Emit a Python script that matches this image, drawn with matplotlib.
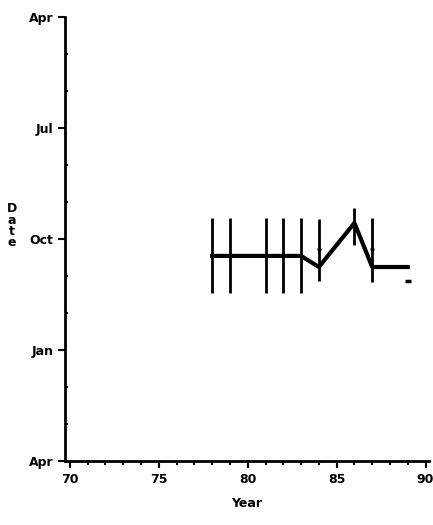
import numpy as np
import matplotlib.pyplot as plt

# Data (months after 1 April; axis runs Apr -> Apr downward)
years = [78, 79, 81, 82, 83, 84, 86, 87, 89]
date_mean = [6.46, 6.46, 6.46, 6.46, 6.46, 6.76, 5.57, 6.76, 6.76]
bar_years = [78, 79, 81, 82, 83, 84, 86, 87]
bar_low = [5.43, 5.43, 5.43, 5.43, 5.43, 5.46, 5.16, 5.43]
bar_high = [7.46, 7.46, 7.46, 7.46, 7.46, 7.14, 6.16, 7.16]
mid_years = [84, 87]
mid_vals = [6.27, 6.27]
extra_year = [89]
extra_val = [7.14]

month_ticks = [0, 3, 6, 9, 12]
month_labels = ['Apr', 'Jul', 'Oct', 'Jan', 'Apr']
year_ticks = [70, 75, 80, 85, 90]

fig = plt.figure(figsize=(4.33, 5.25), dpi=100)
ax = fig.add_axes([0.150, 0.122, 0.841, 0.846])

ax.vlines(bar_years, bar_low, bar_high, color='black', lw=2)
ax.plot(years, date_mean, color='black', lw=3)
ax.plot(mid_years, mid_vals, 'k.', ms=4)
ax.plot(extra_year, extra_val, 'k_', ms=5, mew=2.5)

ax.set_xlim(69.72, 90.2)
ax.set_ylim(12, 0)
ax.set_xticks(year_ticks)
ax.set_xticks(np.arange(70, 91), minor=True)
ax.set_yticks(month_ticks)
ax.set_yticklabels(month_labels)
ax.set_yticks(np.arange(0, 13), minor=True)

for s in ['top', 'right']:
    ax.spines[s].set_visible(False)
for s in ['left', 'bottom']:
    ax.spines[s].set_linewidth(2)

ax.tick_params(axis='both', which='major', labelsize=9, width=1.5, length=5)
ax.tick_params(axis='x', which='minor', direction='out', length=3, width=1.5)
ax.tick_params(axis='y', which='minor', direction='in', length=2, width=1.5)
for lbl in ax.get_xticklabels() + ax.get_yticklabels():
    lbl.set_fontweight('bold')

ax.set_xlabel('Year', fontsize=9, fontweight='bold', labelpad=8)
fig.text(0.028, 0.57, 'D\na\nt\ne', fontsize=9, fontweight='bold',
         ha='center', va='center', linespacing=0.85)

fig.savefig('out.png', dpi=100)
